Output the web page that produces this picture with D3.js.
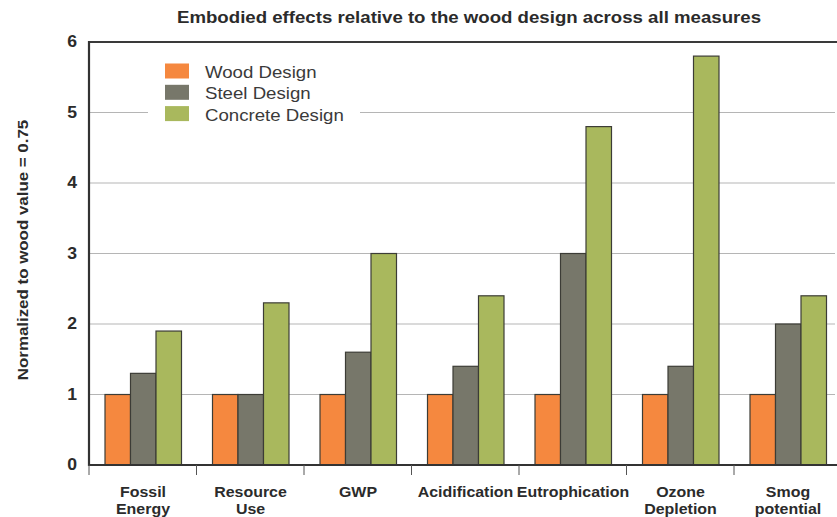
<!DOCTYPE html>
<html>
<head>
<meta charset="utf-8">
<script src="https://cdn.jsdelivr.net/npm/d3@7/dist/d3.min.js"></script>
<style>
  html, body { margin: 0; padding: 0; background: #fff; }
  svg { display: block; font-family: "Liberation Sans", Arial, Helvetica, sans-serif; }
</style>
</head>
<body>
<svg id="chart" width="837" height="517"></svg>
<script>
// Impact measures (two-line labels) and the normalized value of each design
const categories = [
  ["Fossil", "Energy"],
  ["Resource", "Use"],
  ["GWP"],
  ["Acidification"],
  ["Eutrophication"],
  ["Ozone", "Depletion"],
  ["Smog", "potential"]
];
const seriesNames = ["Wood Design", "Steel Design", "Concrete Design"];
const woodValues     = [1, 1, 1, 1, 1, 1, 1];
const steelValues    = [1.3, 1.0, 1.6, 1.4, 3.0, 1.4, 2.0];
const concreteValues = [1.9, 2.3, 3.0, 2.4, 4.8, 5.8, 2.4];
const yTicks = [0, 1, 2, 3, 4, 5, 6];
const colors = ["#F5883F", "#77776A", "#A9B85D"];

const seriesValues = [woodValues, steelValues, concreteValues];
const catKeys = categories.map(c => c.join(" "));

const svg = d3.select("#chart");
const margin = { left: 89, top: 42, bottom: 465 };
const bandRight = 89 + 7 * 107.5;

const x = d3.scaleBand().domain(catKeys).range([margin.left, bandRight]).paddingInner(0).paddingOuter(0);
const x1 = d3.scaleBand().domain(seriesNames).range([16, 16 + 76.5]);
const y = d3.scaleLinear().domain([0, 6]).range([margin.bottom, margin.top]);

// Wide-set lettering: glyphs drawn at their anchor and stretched horizontally
const wide = (sel, px, py, sx, rot = 0) =>
  sel.attr("transform", `translate(${px},${py})${rot ? ` rotate(${rot})` : ""} scale(${sx},1)`);

// Title
wide(svg.append("text"), 469, 22.5, 1.13)
  .attr("text-anchor", "middle")
  .attr("font-size", 16.5).attr("font-weight", "bold").attr("fill", "#2b2b2b")
  .text("Embodied effects relative to the wood design across all measures");

// Horizontal gridlines
svg.append("g").selectAll("line")
  .data(yTicks.filter(t => t > 0 && t < 6))
  .join("line")
  .attr("x1", margin.left).attr("x2", 835)
  .attr("y1", d => y(d)).attr("y2", d => y(d))
  .attr("stroke", "#b5b5b5").attr("stroke-width", 1.2);

// Top frame line
svg.append("line")
  .attr("x1", margin.left).attr("x2", 837)
  .attr("y1", y(6)).attr("y2", y(6))
  .attr("stroke", "#3a3a3a").attr("stroke-width", 2.2);

// Legend (white panel interrupts the gridline)
const legend = svg.append("g");
legend.append("rect")
  .attr("x", 148).attr("y", 58).attr("width", 212).attr("height", 70)
  .attr("fill", "#fff");
seriesNames.forEach((name, i) => {
  const ly = 63.5 + i * 21.3;
  legend.append("rect")
    .attr("x", 165).attr("y", ly).attr("width", 24).attr("height", 15)
    .attr("fill", colors[i]);
  wide(legend.append("text"), 205, ly + 14.5, 1.13)
    .attr("font-size", 16.5).attr("fill", "#3a3a3a")
    .text(name);
});

// Bars
const groups = svg.append("g").selectAll("g")
  .data(catKeys)
  .join("g")
  .attr("transform", d => `translate(${x(d)},0)`);

groups.selectAll("rect")
  .data((d, ci) => seriesNames.map((s, si) => ({ s, si, v: seriesValues[si][ci] })))
  .join("rect")
  .attr("x", d => x1(d.s))
  .attr("width", x1.bandwidth())
  .attr("y", d => y(d.v))
  .attr("height", d => y(0) - y(d.v))
  .attr("fill", d => colors[d.si])
  .attr("stroke", "#3c3c36").attr("stroke-width", 1.2);

// Left axis line and tick labels
svg.append("line")
  .attr("x1", margin.left).attr("x2", margin.left)
  .attr("y1", y(6) - 1).attr("y2", margin.bottom + 1)
  .attr("stroke", "#333").attr("stroke-width", 2.2);

svg.append("g").selectAll("text")
  .data(yTicks)
  .join("text")
  .each(function (d) { wide(d3.select(this), 77, y(d) + 5, 1.1); })
  .attr("text-anchor", "end")
  .attr("font-size", 16).attr("font-weight", "bold").attr("fill", "#2b2b2b")
  .text(d => d);

// Y axis title
wide(svg.append("text"), 28, 250, 1.09, -90)
  .attr("text-anchor", "middle")
  .attr("font-size", 15.5).attr("font-weight", "bold").attr("fill", "#2b2b2b")
  .text("Normalized to wood value = 0.75");

// Bottom axis line with category dividers
svg.append("line")
  .attr("x1", margin.left - 1).attr("x2", 837)
  .attr("y1", margin.bottom).attr("y2", margin.bottom)
  .attr("stroke", "#333").attr("stroke-width", 2.2);

svg.append("g").selectAll("line")
  .data(catKeys)
  .join("line")
  .attr("x1", d => x(d)).attr("x2", d => x(d))
  .attr("y1", margin.bottom).attr("y2", margin.bottom + 10)
  .attr("stroke", "#555").attr("stroke-width", 1);

// Category labels
const labels = svg.append("g").selectAll("text")
  .data(categories)
  .join("text")
  .attr("text-anchor", "middle")
  .attr("font-size", 14.5).attr("font-weight", "bold").attr("fill", "#2b2b2b")
  .each(function (d, i) { wide(d3.select(this), x(catKeys[i]) + x1.range()[0] + 38, 0, 1.1); });
labels.selectAll("tspan")
  .data(d => d)
  .join("tspan")
  .attr("x", 0)
  .attr("y", (d, i) => 497 + i * 17.5)
  .text(d => d);
</script>
</body>
</html>
